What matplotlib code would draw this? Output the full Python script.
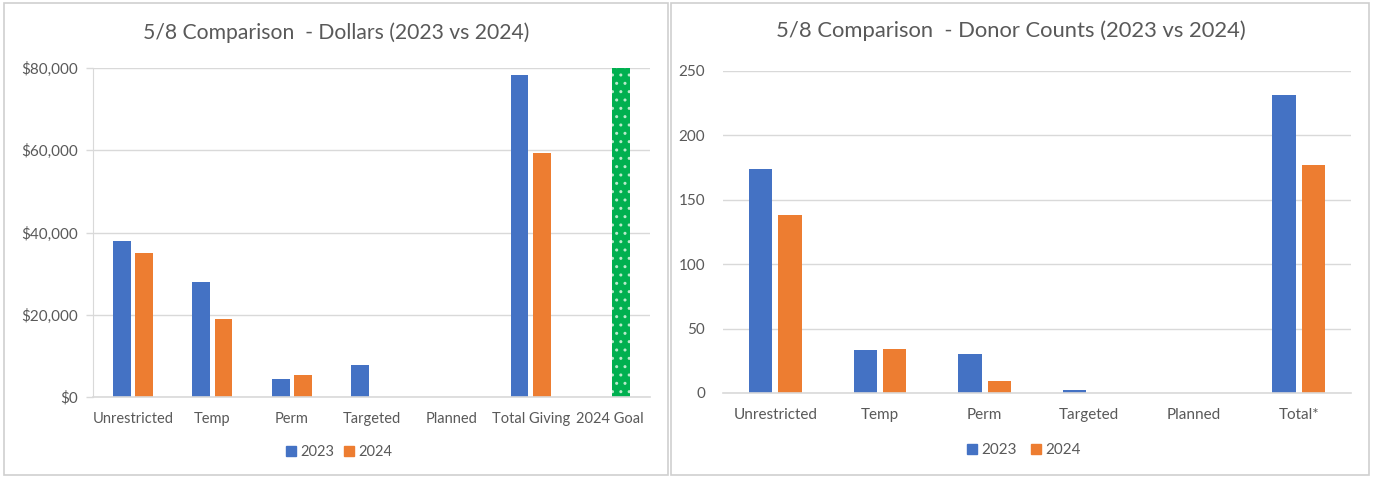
import matplotlib
matplotlib.use("Agg")
import matplotlib.pyplot as plt
from matplotlib.patches import Rectangle, Patch
from matplotlib.ticker import FuncFormatter, MultipleLocator

plt.rcParams["font.family"] = ["Lato", "DejaVu Sans"]

# ── data ──────────────────────────────────────
dollar_cats = ["Unrestricted", "Temp", "Perm", "Targeted", "Planned", "Total Giving", "2024 Goal"]
dollars_2023 = [38000, 28000, 4400, 7800, 0, 78200, 0]
dollars_2024 = [35000, 19000, 5300, 0, 0, 59300, 80000]

donor_cats = ["Unrestricted", "Temp", "Perm", "Targeted", "Planned", "Total*"]
donors_2023 = [174, 33, 30, 2.5, 0, 231]
donors_2024 = [138, 34, 9, 0, 0, 177]

BLUE = "#4472C4"
ORANGE = "#ED7D31"
GREEN = "#00B050"
TXT = "#595959"
GRID = "#D9D9D9"

fig = plt.figure(figsize=(13.73, 4.78), dpi=100)

# panel borders
for x0, x1 in [(4, 668), (671, 1369)]:
    fig.patches.append(Rectangle((x0 / 1373, 3 / 478), (x1 - x0) / 1373, 472 / 478,
                                 transform=fig.transFigure, fill=False,
                                 edgecolor="#CFCFCF", linewidth=1.2))


def style(ax, n, xsize):
    ax.set_xlim(-0.5, n - 0.5)
    ax.grid(axis="y", color=GRID, linewidth=1)
    ax.set_axisbelow(True)
    for s in ["top", "right"]:
        ax.spines[s].set_visible(False)
    ax.spines["bottom"].set_color(GRID)
    ax.spines["bottom"].set_linewidth(1.2)
    ax.tick_params(axis="x", length=0, pad=11, labelsize=xsize, labelcolor=TXT)
    ax.tick_params(axis="y", labelsize=11, labelcolor=TXT, color=GRID, length=0)


w, off = 0.225, 0.14

# ── left: dollars ─────────────────────────────
ax1 = fig.add_axes([93 / 1373, 81 / 478, 557 / 1373, 329 / 478])
xs = range(len(dollar_cats))
ax1.bar([x - off for x in xs], dollars_2023, w, color=BLUE)
bars = ax1.bar([x + off for x in xs], dollars_2024, w, color=ORANGE)
goal = bars[-1]
goal.set_facecolor(GREEN)
goal.set_edgecolor("#B8EACB")
goal.set_linewidth(0)
goal.set_hatch("..")
ax1.set_ylim(0, 80000)
ax1.yaxis.set_major_locator(MultipleLocator(20000))
ax1.yaxis.set_major_formatter(FuncFormatter(lambda v, p: f"${v:,.0f}"))
ax1.set_xticks(list(xs))
ax1.set_xticklabels(dollar_cats)
style(ax1, len(dollar_cats), 10.5)
ax1.spines["left"].set_color(GRID)
ax1.tick_params(axis="y", length=5, width=1, pad=6)
fig.text(336 / 1373, 1 - 33 / 478, "5/8 Comparison  - Dollars (2023 vs 2024)",
         ha="center", va="center", fontsize=15.2, color=TXT)

# ── right: donor counts ───────────────────────
ax2 = fig.add_axes([723 / 1373, 85 / 478, 628 / 1373, 322 / 478])
xs2 = range(len(donor_cats))
ax2.bar([x - off for x in xs2], donors_2023, w, color=BLUE)
ax2.bar([x + off for x in xs2], donors_2024, w, color=ORANGE)
ax2.set_ylim(0, 250)
ax2.yaxis.set_major_locator(MultipleLocator(50))
ax2.set_xticks(list(xs2))
ax2.set_xticklabels(donor_cats)
style(ax2, len(donor_cats), 11)
ax2.spines["left"].set_visible(False)
ax2.tick_params(axis="y", pad=13)
fig.text(1011 / 1373, 1 - 31 / 478, "5/8 Comparison  - Donor Counts (2023 vs 2024)",
         ha="center", va="center", fontsize=15.8, color=TXT)

# legends
handles = [Patch(color=BLUE, label="2023"), Patch(color=ORANGE, label="2024")]
for cx, cy, fs, cs in [(339, 452, 10.5, 0.7), (1024, 450, 11, 0.9)]:
    fig.legend(handles=handles, loc="center", bbox_to_anchor=(cx / 1373, 1 - cy / 478),
               ncol=2, frameon=False, fontsize=fs, labelcolor=TXT,
               handlelength=0.65, handleheight=0.65, handletextpad=0.3, columnspacing=cs)

plt.savefig("out.png", dpi=100)
